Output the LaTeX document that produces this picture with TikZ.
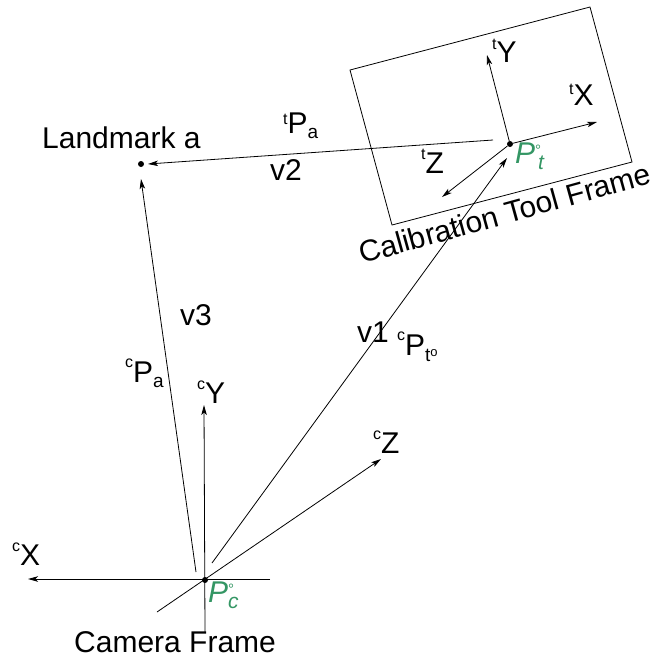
\documentclass[tikz,border=0pt]{standalone}
\usepackage{fontspec}
\setmainfont{Liberation Sans}
\usetikzlibrary{arrows.meta}
\definecolor{ptgreen}{RGB}{52,150,100}
\newcommand\supr[2]{\raisebox{#1pt}{\fontsize{16}{16}\selectfont #2}}
\newcommand\subr[2]{\raisebox{-#1pt}{\fontsize{19}{19}\selectfont #2}}
\begin{document}
\begin{tikzpicture}[x=1pt,y=-1pt,
  lbl/.style={font=\fontsize{30}{33}\selectfont, inner sep=0pt, anchor=base west},
  axis/.style={line width=0.8pt, -{Stealth[length=10pt,width=5.5pt,inset=2.5pt]}},
  plain/.style={line width=0.8pt},
  dotnode/.style={circle, fill=black, inner sep=0pt, minimum size=6pt}]
\useasboundingbox (0,0) rectangle (658,657);

% points
\node[dotnode] (lm) at (141,164) {};
\node[dotnode] (pt) at (510,144) {};
\node[dotnode] (pc) at (205,580) {};

% calibration tool frame rectangle
\coordinate (r1) at (350,70);
\coordinate (r2) at (392,225);
\coordinate (r3) at (632,162);
\coordinate (r4) at (590,7);
\draw[plain] (r1) -- (r2) -- (r3) -- (r4) -- cycle;

% camera axes
\coordinate (cxs) at (270,579);
\coordinate (cxe) at (28,579);
\coordinate (cys) at (205,633);
\coordinate (cye) at (204,405);
\coordinate (czs) at (157,612);
\coordinate (cze) at (381,459);
\draw[axis] (cxs) -- (cxe);
\draw[axis] (cys) -- (cye);
\draw[axis] (czs) -- (cze);

% tool axes
\coordinate (txe) at (597,122);
\coordinate (tye) at (487,55);
\coordinate (tze) at (442,197);
\draw[axis] (pt) -- (txe);
\draw[axis] (pt) -- (tye);
\draw[axis] (pt) -- (tze);

% vectors
\coordinate (v1s) at (212,563);
\coordinate (v1e) at (507,158);
\coordinate (v2s) at (493,140);
\coordinate (v2e) at (148,164);
\coordinate (v3s) at (196,572);
\coordinate (v3e) at (141,179);
\draw[axis] (v1s) -- (v1e);
\draw[axis] (v2s) -- (v2e);
\draw[axis] (v3s) -- (v3e);

% labels
\node[lbl] (tlm) at (42,148) {Landmark a};
\node[lbl] (ttpa) at (283,133) {\supr{9}{t}P\subr{5}{a}};
\node[lbl] (tv2) at (270,180) {v2};
\node[lbl] (tv3) at (180,325) {v3};
\node[lbl] (tcpa) at (125,382) {\supr{15}{c}P\subr{5}{a}};
\node[lbl] (tcy) at (197,403) {\supr{14}{c}Y};
\node[lbl] (tcx) at (12,565) {\supr{14}{c}X};
\node[lbl, text=ptgreen] (tpc) at (208,602) {\itshape P\rlap{\raisebox{8pt}{\fontsize{15}{15}\selectfont\upshape °}}\raisebox{-6pt}{\fontsize{21}{21}\selectfont c}};
\node[lbl] (tcam) at (74,652) {Camera Frame};
\node[lbl] (tv1) at (357,342) {v1};
\node[lbl] (tcpt) at (397,355) {\supr{15}{c}P\raisebox{-6pt}{\fontsize{19}{19}\selectfont t\raisebox{5pt}{\fontsize{13}{13}\selectfont o}}};
\node[lbl] (tcz) at (373,453) {\supr{14}{c}Z};
\node[lbl] (tty) at (492,62) {\supr{13}{t}Y};
\node[lbl] (ttx) at (569,105) {\supr{11}{t}X};
\node[lbl] (ttz) at (421,173) {\supr{14}{t}Z};
\node[lbl, text=ptgreen] (tpt) at (515,163) {\itshape P\rlap{\raisebox{8pt}{\fontsize{15}{15}\selectfont\upshape °}}\hspace{3pt}\raisebox{-6pt}{\fontsize{21}{21}\selectfont t}};
\node[lbl, rotate=15.5] (tcal) at (362,264) {Calibration Tool Frame};
\end{tikzpicture}
\end{document}
